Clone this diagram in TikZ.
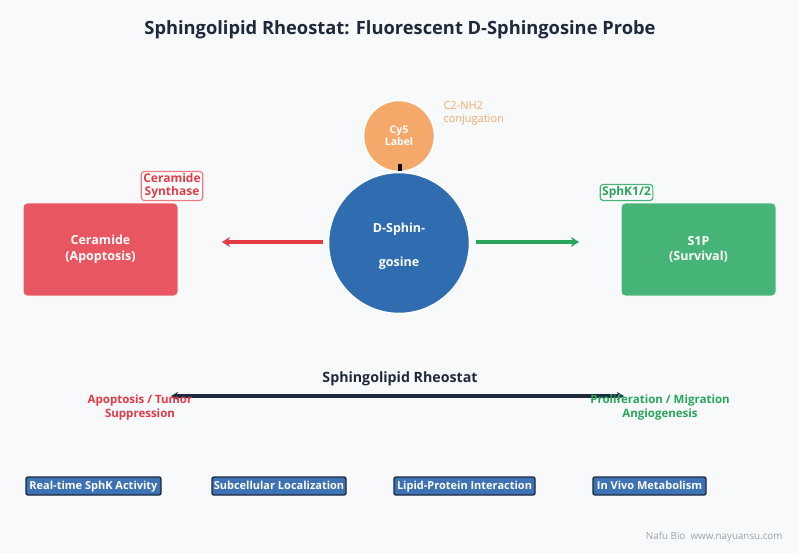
\documentclass[tikz,border=0pt]{standalone}
\usepackage{fontspec}
\setmainfont{Open Sans}
\usetikzlibrary{arrows.meta,positioning}

\definecolor{bgcol}{HTML}{F8F9FB}
\definecolor{inkcol}{HTML}{1E293B}
\definecolor{cercol}{HTML}{E85661}
\definecolor{redcol}{HTML}{E63946}
\definecolor{s1pcol}{HTML}{46B377}
\definecolor{grncol}{HTML}{27A55A}
\definecolor{sphcol}{HTML}{2F6DB0}
\definecolor{cy5col}{HTML}{F4A96A}
\definecolor{appcol}{HTML}{3D72B4}
\definecolor{footcol}{HTML}{9AA3AE}

\tikzset{
    pool/.style={rounded corners=4pt, draw=white, line width=1pt, text=white,
        font=\bfseries\fontsize{12.5}{15.5}\selectfont, align=center,
        minimum width=155pt, minimum height=93pt},
    enzyme/.style={rounded corners=3pt, fill=white, line width=1.2pt,
        font=\bfseries\fontsize{12}{13}\selectfont, align=center, inner sep=2pt},
    app/.style={rounded corners=2pt, fill=appcol, draw=inkcol, line width=1.4pt, text=white,
        font=\bfseries\fontsize{11}{12}\selectfont, minimum height=18pt, inner sep=1pt,
        text height=8.5pt, text depth=2.5pt},
    flux/.style={line width=4.5pt, -{Stealth[length=8pt,width=10pt]}},
}

\begin{document}
\begin{tikzpicture}[x=1pt,y=-1pt]
    % canvas
    \fill[bgcol] (0,0) rectangle (799,553);
    \useasboundingbox (0,0) rectangle (799,553);

    % Title
    \node[text=inkcol, font=\bfseries\fontsize{18.3}{21}\selectfont] (title) at (400,30)
        {Sphingolipid Rheostat: Fluorescent D-Sphingosine Probe};

    % Central probe
    \node[circle, fill=sphcol, draw=white, line width=1.5pt, minimum size=141pt] (sph) at (399,243) {};
    \node[text=white, font=\bfseries\fontsize{12.5}{14}\selectfont] (sphA) at (399,229) {D-Sphin-};
    \node[text=white, font=\bfseries\fontsize{12.5}{14}\selectfont] (sphB) at (399,263) {gosine};
    \node[circle, fill=cy5col, draw=white, line width=1.5pt, minimum size=71pt, text=white,
        align=center, font=\bfseries\fontsize{10.5}{12.5}\selectfont] (cy5) at (399,136) {Cy5\\Label};
    \fill[black] (397.5,164) rectangle (402,171); % linker
    \node[text=cy5col, anchor=west, align=left, font=\fontsize{11}{13}\selectfont] (conj) at (440,113)
        {C2-NH2\\conjugation};

    % Metabolite pools
    \node[pool, fill=cercol] (cer) at (100.5,249.5) {Ceramide\\(Apoptosis)};
    \node[pool, fill=s1pcol] (s1p) at (698.5,249.5) {S1P\\(Survival)};
    \node[enzyme, draw=cercol!80, text=redcol] (cers) at (172,186) {Ceramide\\Synthase};
    \node[enzyme, draw=s1pcol, text=grncol] (sphk) at (626.5,192.5) {SphK1/2};

    % Conversion arrows
    \coordinate (cerL) at (323,242);
    \coordinate (cerR) at (222,242);
    \coordinate (s1pL) at (476,242);
    \coordinate (s1pR) at (579,242);
    \draw[flux, redcol] (cerL) -- (cerR);
    \draw[flux, grncol] (s1pL) -- (s1pR);

    % Rheostat balance
    \node[text=inkcol, font=\bfseries\fontsize{14.2}{16}\selectfont] (rheo) at (400,379) {Sphingolipid Rheostat};
    \coordinate (rheoL) at (171,396);
    \coordinate (rheoR) at (624,396);
    \draw[inkcol, line width=3.5pt, {Stealth[length=7pt,width=8pt]}-{Stealth[length=7pt,width=8pt]}] (rheoL) -- (rheoR);
    \node[text=redcol, align=center, font=\bfseries\fontsize{11.5}{14}\selectfont] (apo) at (140,407.5)
        {Apoptosis / Tumor\\Suppression};
    \node[text=grncol, align=center, font=\bfseries\fontsize{11.5}{14}\selectfont] (pro) at (660,407.5)
        {Proliferation / Migration\\Angiogenesis};

    % Applications
    \foreach \i/\cx/\w/\txt in {1/93.5/135/Real-time SphK Activity,
                               2/279/134/Subcellular Localization,
                               3/464.5/141/Lipid-Protein Interaction,
                               4/649.5/113/In Vivo Metabolism}{
        \node[app, minimum width=\w pt] (app-\i) at (\cx,486) {\txt};
    }

    % Footer
    \node[text=footcol, anchor=east, font=\fontsize{9.8}{11}\selectfont] (foot) at (786,537)
        {Nafu Bio\ \ www.nayuansu.com};
\end{tikzpicture}
\end{document}
